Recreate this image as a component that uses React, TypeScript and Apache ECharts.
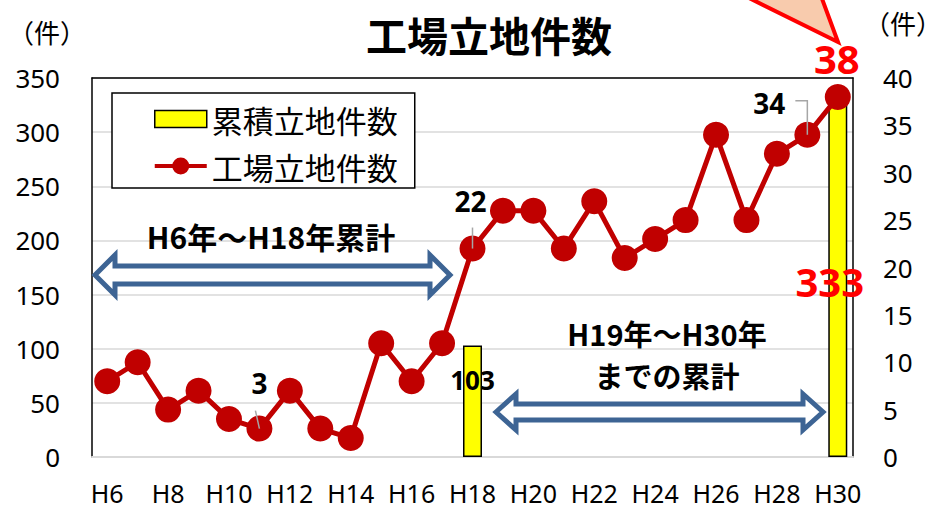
import React, { useEffect, useRef } from "react";
import * as echarts from "echarts";

const categories = [
  "H6", "H7", "H8", "H9", "H10", "H11", "H12", "H13", "H14", "H15", "H16", "H17", "H18",
  "H19", "H20", "H21", "H22", "H23", "H24", "H25", "H26", "H27", "H28", "H29", "H30",
];
const yearlyCounts = [8, 10, 5, 7, 4, 3, 7, 3, 2, 12, 8, 12, 22, 26, 26, 22, 27, 21, 23, 25, 34, 25, 32, 34, 38];
const cumulativeCounts: (number | null)[] = [
  null, null, null, null, null, null, null, null, null, null, null, null, 103,
  null, null, null, null, null, null, null, null, null, null, null, 333,
];
const leftAxis = { min: 0, max: 350, interval: 50 };
const rightAxis = { min: 0, max: 40, interval: 5 };
const labeledYears = ["H11", "H18", "H29", "H30"];

const NUM_FONT = "'Noto Sans', 'Open Sans', sans-serif";
const JP_FONT = "'Noto Sans CJK JP', 'Noto Sans', sans-serif";
const RED_LINE = "#C00000";
const ARROW_BLUE = "#3D6494";

function arrowPoints(x1: number, x2: number, cy: number, hl: number, hh: number, sh: number) {
  return [
    [x1, cy], [x1 + hl, cy - hh], [x1 + hl, cy - sh], [x2 - hl, cy - sh], [x2 - hl, cy - hh],
    [x2, cy], [x2 - hl, cy + hh], [x2 - hl, cy + sh], [x1 + hl, cy + sh], [x1 + hl, cy + hh],
  ];
}

export default function App() {
  const ref = useRef<HTMLDivElement>(null);
  useEffect(() => {
    if (!ref.current) return;
    const chart = echarts.init(ref.current, undefined, { renderer: "svg" });

    const lineLabelStyle: Record<string, any> = {
      H11: { offset: [0, -14], fontSize: 28, color: "#000" },
      H18: { offset: [-2, -16], fontSize: 28, color: "#000" },
      H29: { offset: [-38, 0], fontSize: 28, color: "#000" },
      H30: { offset: [-1, 0], fontSize: 40, color: "#FF0000" },
    };
    const lineData = yearlyCounts.map((v, i) => {
      const cat = categories[i];
      if (labeledYears.includes(cat)) {
        const s = lineLabelStyle[cat];
        return {
          value: v,
          label: {
            show: true, position: "top", offset: s.offset, fontSize: s.fontSize,
            color: s.color, fontWeight: "bold", fontFamily: NUM_FONT,
          },
        };
      }
      return v;
    });
    const barData = cumulativeCounts.map((v, i) => {
      if (v == null) return null;
      const last = i === categories.length - 1;
      return {
        value: v,
        label: {
          show: true,
          position: "insideTop",
          offset: last ? [-8, 160] : [0, 17],
          fontSize: last ? 40 : 26,
          color: last ? "#FF0000" : "#000",
          fontWeight: "bold",
          fontFamily: NUM_FONT,
        },
      };
    });

    const option: any = {
      animation: false,
      backgroundColor: "#fff",
      title: {
        text: "工場立地件数",
        left: 361,
        top: 8,
        textStyle: { fontSize: 41, fontWeight: "bold", color: "#000", fontFamily: JP_FONT },
      },
      legend: {
        orient: "vertical",
        left: 112,
        top: 93,
        borderColor: "#000",
        borderWidth: 1.5,
        padding: [10, 17, 6, 42],
        itemWidth: 52,
        itemHeight: 17,
        itemGap: 15,
        itemTextGap: 8,
        backgroundColor: "#fff",
        textStyle: { fontSize: 31, color: "#000", fontFamily: JP_FONT, lineHeight: 32 },
        data: [
          { name: "累積立地件数", icon: "rect", itemStyle: { color: "#FFFF00", borderColor: "#000", borderWidth: 1.5 } },
          {
            name: "工場立地件数",
            icon: "path://M0,6.5H52V10.5H0Z M17.5,8.5a8.5,8.5 0 1,1 17,0a8.5,8.5 0 1,1 -17,0Z",
            itemStyle: { color: RED_LINE, borderWidth: 0 },
          },
        ],
      },
      grid: { left: 92, right: 75, top: 78, bottom: 52, outerBoundsMode: "none" },
      xAxis: [
        {
          type: "category",
          data: categories,
          axisLine: { show: true, lineStyle: { color: "#D9D9D9", width: 2 } },
          axisTick: { show: false },
          axisLabel: { interval: 1, fontSize: 25, lineHeight: 20, color: "#000", fontFamily: NUM_FONT, margin: 26 },
        },
        {
          type: "category",
          data: categories,
          position: "top",
          axisLine: { show: true, onZero: false, lineStyle: { color: "#000", width: 1.5 } },
          axisTick: { show: false },
          axisLabel: { show: false },
        },
      ],
      yAxis: [
        {
          type: "value",
          min: leftAxis.min,
          max: leftAxis.max,
          interval: leftAxis.interval,
          axisLine: { show: true, lineStyle: { color: "#000", width: 1.5 } },
          axisTick: { show: false },
          splitLine: { show: true, lineStyle: { color: "#D9D9D9", width: 1.5 } },
          axisLabel: { fontSize: 26, color: "#000", fontFamily: NUM_FONT, margin: 32 },
        },
        {
          type: "value",
          min: rightAxis.min,
          max: rightAxis.max,
          interval: rightAxis.interval,
          position: "right",
          axisLine: { show: true, lineStyle: { color: "#000", width: 1.5 } },
          axisTick: { show: false },
          splitLine: { show: false },
          axisLabel: { fontSize: 26, color: "#000", fontFamily: NUM_FONT, margin: 30 },
        },
      ],
      series: [
        {
          name: "累積立地件数",
          type: "bar",
          xAxisIndex: 0,
          yAxisIndex: 0,
          barWidth: 19,
          itemStyle: { color: "#FFFF00", borderColor: "#000", borderWidth: 1.5 },
          data: barData,
          z: 2,
        },
        {
          name: "工場立地件数",
          type: "line",
          xAxisIndex: 0,
          yAxisIndex: 1,
          symbol: "circle",
          symbolSize: 26,
          showAllSymbol: true,
          lineStyle: { color: RED_LINE, width: 5 },
          itemStyle: { color: RED_LINE },
          data: lineData,
          z: 3,
        },
      ],
    };
    chart.setOption(option);

    const px = (cat: string, v: number) =>
      chart.convertToPixel({ xAxisIndex: 0, yAxisIndex: 1 }, [cat, v]) as number[];
    const p11 = px("H11", yearlyCounts[categories.indexOf("H11")]);
    const p18 = px("H18", yearlyCounts[categories.indexOf("H18")]);
    const p29 = px("H29", yearlyCounts[categories.indexOf("H29")]);
    const leader = { stroke: "#A6A6A6", lineWidth: 1.5 };

    chart.setOption({
      graphic: [
        {
          type: "polygon", z: 1,
          shape: { points: [[745, -4], [821, -4], [838, 42]] },
          style: { fill: "#F8CBAD", stroke: "#FF0000", lineWidth: 4 },
        },
        {
          type: "text", left: 8, top: 18,
          style: { text: "（件）", fill: "#000", font: `26px ${JP_FONT}` },
        },
        {
          type: "text", left: 864, top: 9,
          style: { text: "（件）", fill: "#000", font: `26px ${JP_FONT}` },
        },
        {
          type: "line", z: 100,
          shape: { x1: p18[0], y1: p18[1] - 21, x2: p18[0], y2: p18[1] },
          style: leader,
        },
        {
          type: "line", z: 100,
          shape: { x1: p11[0] - 4, y1: p11[1] - 18, x2: p11[0], y2: p11[1] },
          style: leader,
        },
        {
          type: "polyline", z: 100,
          shape: { points: [[p29[0] - 12, p29[1] - 34], [p29[0], p29[1] - 34], [p29[0], p29[1]]] },
          style: { ...leader, fill: "none" },
        },
        {
          type: "polygon", z: 50,
          shape: { points: arrowPoints(95, 450, 275, 20, 20, 9) },
          style: { fill: "#fff", stroke: ARROW_BLUE, lineWidth: 5 },
        },
        {
          type: "polygon", z: 50,
          shape: { points: arrowPoints(496, 823, 412, 20, 18, 8) },
          style: { fill: "#fff", stroke: ARROW_BLUE, lineWidth: 5 },
        },
        {
          type: "text", z: 50, x: 271, y: 236,
          style: {
            text: "H6年～H18年累計", fill: "#000", align: "center", verticalAlign: "middle",
            font: `bold 30px ${JP_FONT}`, lineHeight: 32,
          },
        },
        {
          type: "text", z: 50, x: 667, y: 333,
          style: {
            text: "H19年～H30年", fill: "#000", align: "center", verticalAlign: "middle",
            font: `bold 29px ${JP_FONT}`, lineHeight: 30,
          },
        },
        {
          type: "text", z: 50, x: 667, y: 375,
          style: {
            text: "までの累計", fill: "#000", align: "center", verticalAlign: "middle",
            font: `bold 29px ${JP_FONT}`, lineHeight: 30,
          },
        },
      ],
    });

    return () => chart.dispose();
  }, []);
  return <div ref={ref} style={{ position: "fixed", left: 0, top: 0, width: 928, height: 509 }} />;
}
